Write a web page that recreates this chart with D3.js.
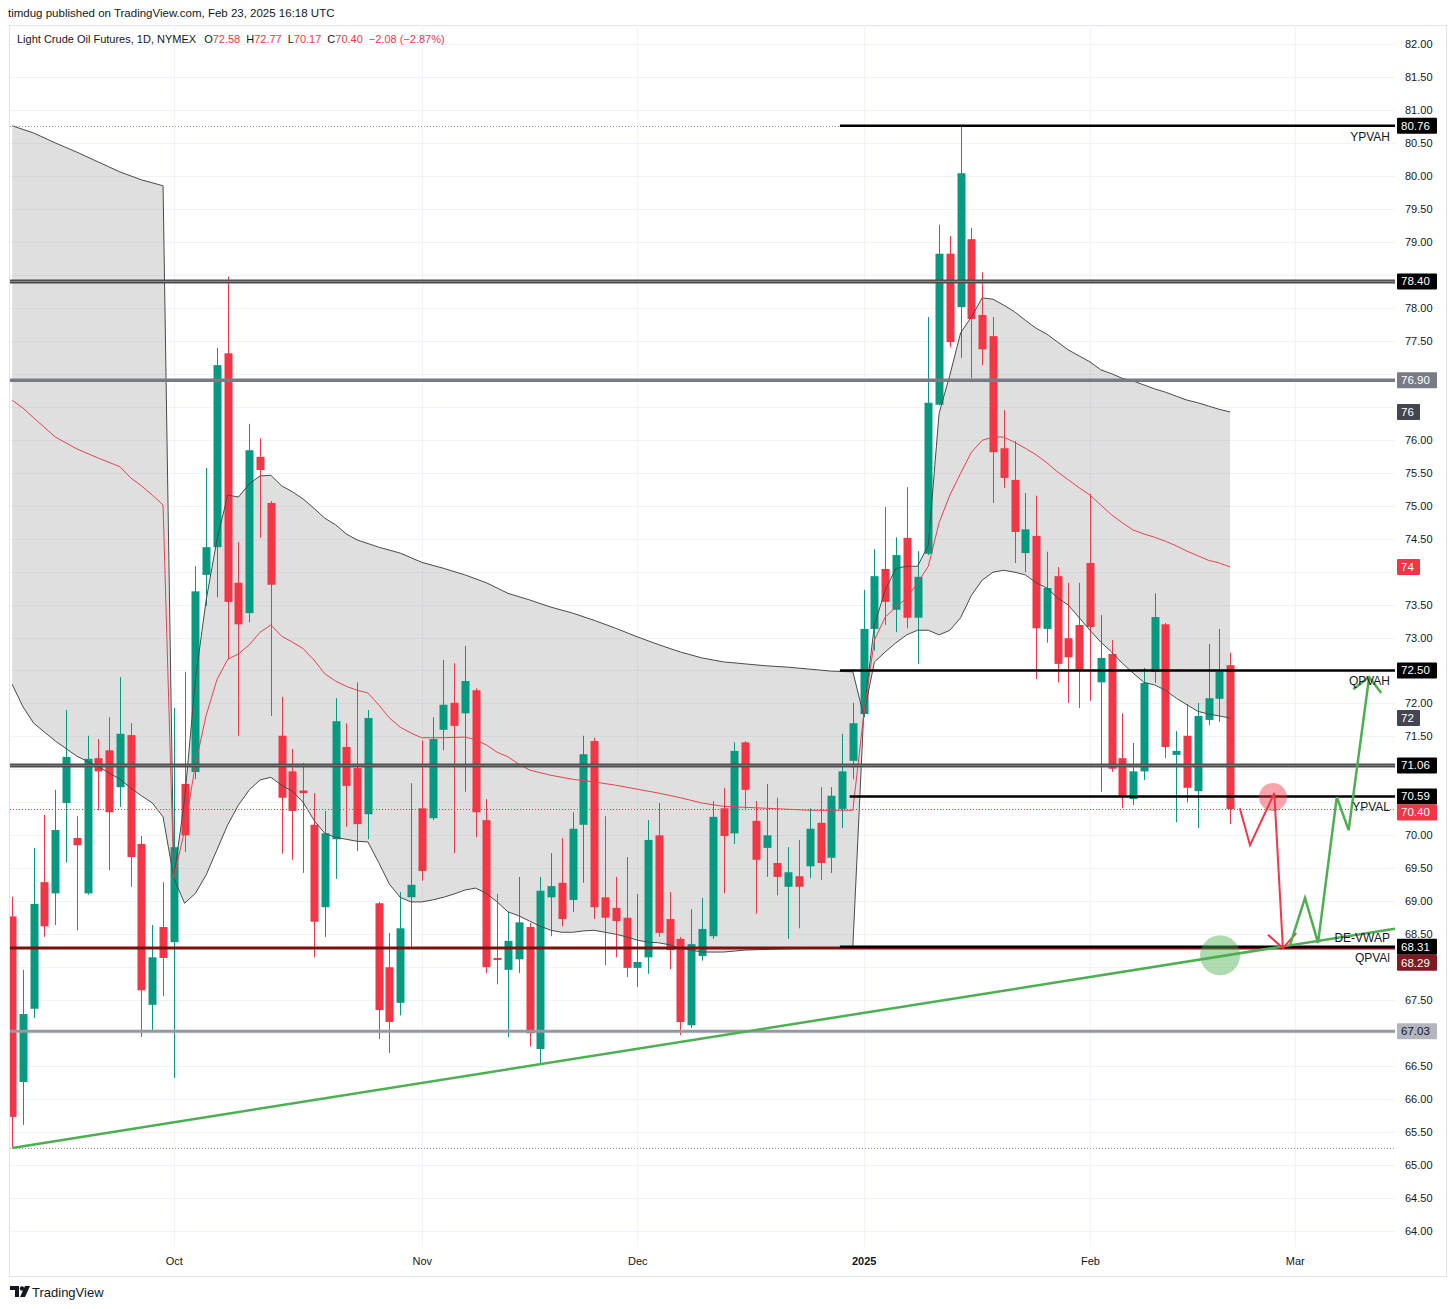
<!DOCTYPE html>
<html><head><meta charset="utf-8">
<script src="https://cdn.jsdelivr.net/npm/d3@7/dist/d3.min.js"></script>
<style>
html,body{margin:0;padding:0;background:#fff;}
svg{display:block;font-family:"Liberation Sans",Arial,sans-serif;}
</style></head><body>
<svg id="c" width="1456" height="1309"></svg>
<script>
// ---------------- DATA ----------------
const dates = ("2024-09-10 2024-09-11 2024-09-12 2024-09-13 2024-09-16 2024-09-17 2024-09-18 2024-09-19 2024-09-20 2024-09-23 2024-09-24 2024-09-25 2024-09-26 2024-09-27 2024-09-30 " +
"2024-10-01 2024-10-02 2024-10-03 2024-10-04 2024-10-07 2024-10-08 2024-10-09 2024-10-10 2024-10-11 2024-10-14 2024-10-15 2024-10-16 2024-10-17 2024-10-18 2024-10-21 2024-10-22 2024-10-23 2024-10-24 2024-10-25 2024-10-28 2024-10-29 2024-10-30 2024-10-31 " +
"2024-11-01 2024-11-04 2024-11-05 2024-11-06 2024-11-07 2024-11-08 2024-11-11 2024-11-12 2024-11-13 2024-11-14 2024-11-15 2024-11-18 2024-11-19 2024-11-20 2024-11-21 2024-11-22 2024-11-25 2024-11-26 2024-11-27 2024-11-29 " +
"2024-12-02 2024-12-03 2024-12-04 2024-12-05 2024-12-06 2024-12-09 2024-12-10 2024-12-11 2024-12-12 2024-12-13 2024-12-16 2024-12-17 2024-12-18 2024-12-19 2024-12-20 2024-12-23 2024-12-24 2024-12-26 2024-12-27 2024-12-30 2024-12-31 " +
"2025-01-02 2025-01-03 2025-01-06 2025-01-07 2025-01-08 2025-01-09 2025-01-10 2025-01-13 2025-01-14 2025-01-15 2025-01-16 2025-01-17 2025-01-21 2025-01-22 2025-01-23 2025-01-24 2025-01-27 2025-01-28 2025-01-29 2025-01-30 2025-01-31 " +
"2025-02-03 2025-02-04 2025-02-05 2025-02-06 2025-02-07 2025-02-10 2025-02-11 2025-02-12 2025-02-13 2025-02-14 2025-02-18 2025-02-19 2025-02-20 2025-02-21").split(" ");

const opens = [68.77,66.26,67.37,69.29,69.12,70.49,69.96,69.12,71.17,71.29,70.73,71.52,69.87,67.43,68.61,
68.38,70.78,70.96,73.95,74.37,77.31,73.83,73.37,75.74,75.04,71.51,70.97,70.68,70.16,68.91,69.94,71.34,71.02,70.32,68.97,68.00,67.46,69.06,
70.41,70.26,71.60,72.01,71.85,72.20,70.23,68.14,67.96,68.12,68.61,66.76,69.06,69.28,69.02,70.16,71.43,69.06,68.90,68.75,
67.99,68.15,70.00,68.73,68.43,67.12,68.17,68.47,70.41,70.03,71.41,70.22,69.81,69.58,69.22,69.38,69.53,70.19,69.66,70.40,71.13,
71.84,73.13,74.04,73.42,74.51,73.30,74.27,76.53,78.82,78.01,79.04,77.89,77.57,75.87,75.39,74.28,74.54,73.13,73.93,72.99,73.19,
74.13,72.32,72.75,71.17,70.55,70.97,72.48,73.20,71.22,71.51,70.67,71.75,72.07,72.58];
const highs = [69.07,67.96,69.81,70.31,70.69,71.90,70.29,71.51,71.46,71.79,72.40,71.70,69.99,68.64,69.29,
71.93,72.48,74.08,75.57,77.39,78.47,74.45,76.24,76.02,75.07,72.10,71.31,71.10,70.64,70.37,72.08,71.70,72.32,71.90,68.99,68.52,69.14,70.79,
71.44,71.79,72.66,72.61,72.87,72.23,70.55,69.11,68.84,69.37,68.67,69.37,69.73,69.96,70.35,71.51,71.48,70.29,69.37,69.67,
69.11,70.23,70.49,69.14,68.46,68.88,69.05,70.52,70.72,71.41,71.43,70.52,70.78,70.57,69.82,69.93,70.41,70.73,70.73,71.54,72.01,
73.72,74.34,74.98,74.52,75.28,74.31,77.86,79.26,79.09,80.76,79.21,78.54,77.86,76.45,75.98,75.19,75.15,74.30,74.07,73.83,73.83,
75.18,73.34,72.96,71.85,71.40,72.54,73.67,73.22,71.58,71.99,72.01,72.90,73.13,72.77];
const lows = [65.26,65.61,67.23,68.46,68.64,69.59,68.56,69.10,70.38,69.47,70.43,69.22,66.94,67.05,67.56,
66.32,69.75,70.85,73.48,73.61,72.67,71.51,73.23,74.51,71.81,69.72,69.63,69.43,68.15,68.46,69.34,70.13,69.76,69.94,66.91,66.70,67.27,68.31,
69.31,70.23,71.29,69.73,70.66,69.97,67.91,67.74,66.94,67.91,66.80,66.53,68.47,68.62,68.84,69.28,68.73,68.03,68.15,67.85,
67.70,67.90,68.46,67.97,66.97,67.08,68.10,68.43,69.12,69.87,70.38,68.81,69.37,69.09,68.43,68.59,69.35,69.32,69.43,70.11,70.85,
71.79,72.80,73.19,73.08,73.14,72.60,74.25,76.52,77.40,77.24,76.93,77.13,75.04,75.27,74.13,73.99,72.37,72.92,72.32,72.01,71.93,
72.04,70.66,70.96,70.41,70.46,70.84,72.31,71.17,70.20,70.50,70.11,71.67,71.72,70.17];
const closes = [65.73,67.29,68.96,68.62,70.08,71.19,69.85,71.16,70.97,70.35,71.54,69.67,67.65,68.15,68.14,
69.82,70.00,73.70,74.37,77.13,73.54,73.20,75.84,75.54,73.80,70.57,70.37,70.64,68.69,70.03,71.73,70.75,70.17,71.78,67.35,67.17,68.59,69.25,
69.46,71.46,71.98,71.66,72.34,70.35,68.00,68.11,68.40,68.68,67.00,69.16,69.23,68.73,70.10,71.23,68.91,68.75,68.70,67.99,
68.08,69.93,68.52,68.26,67.17,68.35,68.58,70.28,69.99,71.28,70.69,69.63,70.00,69.37,69.44,69.22,70.10,69.58,70.60,70.97,71.70,
73.13,73.93,73.54,74.25,73.30,73.92,76.56,78.82,77.48,80.04,77.83,77.37,75.81,75.42,74.60,74.64,73.14,73.75,72.60,72.70,72.51,
73.16,72.69,71.01,70.60,70.97,72.31,73.31,71.34,71.28,70.72,71.81,72.08,72.48,70.40];

// anchored VWAP bands: [bar index, price]
const upperBand = [[0,80.76],[2,80.65],[4,80.50],[6,80.36],[8,80.21],[10,80.06],[12,79.94],[14,79.85],
[15,69.35],[16,70.54],[17,72.36],[18,73.57],[19,74.48],[20,75.16],[21,75.13],[22,75.33],[23,75.45],[24,75.46],[25,75.30],[26,75.21],[27,75.10],[28,74.96],[29,74.81],[30,74.71],[31,74.57],[32,74.48],[34,74.37],[36,74.28],[38,74.14],[40,74.05],[42,73.95],[44,73.83],[46,73.67],[48,73.57],[50,73.46],[52,73.37],[54,73.26],[56,73.14],[58,73.01],[60,72.89],[62,72.78],[64,72.69],[66,72.63],[68,72.60],[70,72.57],[72,72.55],[74,72.52],[76,72.49],[78,72.48],
[79,71.82],[80,73.19],[81,73.72],[82,74.05],[83,74.08],[84,74.08],[85,74.40],[86,76.40],[87,76.98],[88,77.62],[89,77.86],[90,78.15],[91,78.13],[92,78.04],[93,77.94],[94,77.81],[95,77.69],[96,77.60],[97,77.48],[98,77.36],[99,77.27],[100,77.18],[101,77.06],[102,77.00],[103,76.93],[104,76.89],[105,76.83],[106,76.77],[107,76.72],[108,76.66],[109,76.60],[110,76.56],[111,76.51],[112,76.46],[113,76.42]];
const midBand = [[0,76.60],[1,76.48],[2,76.33],[4,76.04],[6,75.86],[8,75.72],[10,75.59],[11,75.42],[12,75.30],[13,75.16],[14,75.01],
[15,69.35],[16,70.08],[17,71.07],[18,71.82],[19,72.36],[20,72.67],[21,72.75],[22,72.89],[23,73.08],[24,73.19],[25,73.02],[26,72.93],[27,72.83],[28,72.66],[29,72.45],[30,72.34],[31,72.26],[32,72.20],[33,72.16],[34,71.98],[35,71.78],[36,71.64],[37,71.55],[38,71.48],[40,71.48],[42,71.49],[43,71.45],[44,71.37],[45,71.26],[46,71.19],[47,71.08],[48,70.99],[50,70.91],[52,70.85],[54,70.81],[56,70.76],[58,70.70],[60,70.64],[62,70.57],[64,70.49],[66,70.44],[70,70.41],[74,70.38],[78,70.38],
[79,71.82],[80,72.96],[81,73.31],[82,73.46],[83,73.60],[84,73.83],[85,74.08],[86,74.74],[87,75.16],[88,75.49],[89,75.81],[90,75.99],[91,76.04],[92,76.04],[93,75.96],[94,75.87],[95,75.77],[96,75.65],[97,75.51],[98,75.39],[99,75.27],[100,75.16],[101,75.01],[102,74.86],[103,74.74],[104,74.63],[105,74.57],[106,74.52],[107,74.46],[108,74.39],[109,74.31],[110,74.24],[111,74.17],[112,74.13],[113,74.07]];
const lowerBand = [[0,72.29],[1,71.95],[2,71.70],[4,71.43],[6,71.20],[8,71.04],[10,70.85],[11,70.72],[12,70.60],[13,70.49],[14,70.28],
[15,69.35],[16,68.97],[17,69.12],[18,69.40],[19,69.78],[20,70.16],[21,70.46],[22,70.69],[23,70.84],[24,70.88],[25,70.76],[26,70.67],[27,70.50],[28,70.23],[29,70.03],[30,69.97],[31,69.94],[32,69.91],[33,69.90],[34,69.59],[35,69.26],[36,69.06],[37,68.99],[38,68.99],[39,69.02],[40,69.06],[41,69.11],[42,69.17],[43,69.20],[44,69.12],[45,68.99],[46,68.84],[47,68.78],[48,68.70],[49,68.62],[50,68.56],[51,68.53],[52,68.53],[53,68.55],[54,68.56],[55,68.53],[56,68.50],[57,68.46],[58,68.41],[59,68.38],[60,68.37],[61,68.34],[62,68.29],[64,68.23],[66,68.23],[68,68.26],[72,68.28],[76,68.29],[78,68.31],
[79,71.82],[80,72.63],[81,72.78],[82,72.92],[83,73.04],[84,73.11],[85,73.11],[86,73.04],[87,73.11],[88,73.30],[89,73.64],[90,73.87],[91,73.99],[92,74.02],[93,73.99],[94,73.95],[95,73.83],[96,73.75],[97,73.60],[98,73.49],[99,73.30],[100,73.11],[101,72.93],[102,72.78],[103,72.61],[104,72.46],[105,72.32],[106,72.28],[107,72.20],[108,72.08],[109,71.98],[110,71.88],[111,71.84],[112,71.81],[113,71.78]];

// horizontal levels
const levelPrices = [80.76, 78.40, 76.90, 72.50, 71.06, 70.59, 68.29, 68.31, 67.03];
const levelStartBar = [76.8, 0, 0, 76.8, 0, 77.7, 0, 76.8, 0];
const levelNames = ["YPVAH", "", "", "QPVAH", "", "YPVAL", "DE-VWAP", "QPVAl", ""];
const levelNameAbove = [false, false, false, false, false, false, true, false, false];

// drawings
const trendLine = [[0, 65.26], [49, 66.53]];
const redPath = [[113.9, 70.41], [114.85, 69.85], [117.1, 70.64], [117.9, 68.29]];
const greenPath = [[118.56, 68.34], [119.95, 69.05], [121.16, 68.37], [122.9, 70.58], [124.0, 70.08], [125.9, 72.40]];
const redMarker = [116.98, 70.58];
const greenMarker = [112.07, 68.18];

// axes
const yTickValues = [64.0,64.5,65.0,65.5,66.0,66.5,67.0,67.5,68.0,68.5,69.0,69.5,70.0,70.5,71.0,71.5,72.0,72.5,73.0,73.5,74.0,74.5,75.0,75.5,76.0,76.5,77.0,77.5,78.0,78.5,79.0,79.5,80.0,80.5,81.0,81.5,82.0];
const xTickLabels = ["Oct", "Nov", "Dec", "2025", "Feb", "Mar"];
const xTickIndex = [15, 38, 58, 79, 100, 119];

const symbolName = "Light Crude Oil Futures, 1D, NYMEX";
const publishText = "timdug published on TradingView.com, Feb 23, 2025 16:18 UTC";

// ---------------- DRAW ----------------
const UP = "#089981", DN = "#f23645", TXT = "#131722";
const svg = d3.select("#c");
const plotL = 10, plotR = 1395, plotT = 25, plotB = 1247;
const x = d3.scaleLinear().domain([-0.2, 128.3]).range([plotL, plotR]);
const y = d3.scaleLinear().domain([82, 64]).range([44, 1231]);

svg.append("defs").append("clipPath").attr("id", "clip")
  .append("rect").attr("x", plotL).attr("y", plotT).attr("width", plotR - plotL).attr("height", plotB - plotT);

// publish line
svg.append("text").attr("x", 8).attr("y", 17).attr("font-size", 11.5).attr("fill", TXT).text(publishText);

// frame
svg.append("rect").attr("x", 9.5).attr("y", 25.5).attr("width", 1437).attr("height", 1251)
  .attr("fill", "none").attr("stroke", "#e0e3eb");

const plot = svg.append("g").attr("clip-path", "url(#clip)");

// grid
plot.append("g").selectAll("line").data(yTickValues).join("line")
  .attr("x1", plotL).attr("x2", plotR)
  .attr("y1", d => Math.round(y(d)) + 0.5).attr("y2", d => Math.round(y(d)) + 0.5)
  .attr("stroke", "#f0f3fa");
plot.append("g").selectAll("line").data(xTickIndex).join("line")
  .attr("y1", plotT).attr("y2", plotB)
  .attr("x1", d => Math.round(x(d)) + 0.5).attr("x2", d => Math.round(x(d)) + 0.5)
  .attr("stroke", "#f0f3fa");

// band fill
const polyPts = upperBand.map(d => [x(d[0]), y(d[1])]).concat(lowerBand.slice().reverse().map(d => [x(d[0]), y(d[1])]));
plot.append("path").attr("d", d3.line()(polyPts) + "Z").attr("fill", "rgba(128,128,128,0.25)").attr("stroke", "none");

// candles
const bars = dates.map((d, i) => ({ i, d, o: opens[i], h: highs[i], l: lows[i], c: closes[i] }));
const cg = plot.append("g");
cg.selectAll("line").data(bars).join("line")
  .attr("x1", d => Math.round(x(d.i)) + 0.5).attr("x2", d => Math.round(x(d.i)) + 0.5)
  .attr("y1", d => y(d.h)).attr("y2", d => y(d.l))
  .attr("stroke", d => d.c >= d.o ? UP : DN).attr("stroke-width", 1);
cg.selectAll("rect").data(bars).join("rect")
  .attr("x", d => Math.round(x(d.i)) - 3.5).attr("width", 8)
  .attr("y", d => y(Math.max(d.o, d.c)))
  .attr("height", d => Math.max(1.5, Math.abs(y(d.o) - y(d.c))))
  .attr("fill", d => d.c >= d.o ? UP : DN);

// band lines
const bl = d3.line().x(d => x(d[0])).y(d => y(d[1]));
plot.append("path").attr("d", bl(upperBand)).attr("fill", "none").attr("stroke", "#4a4a4a").attr("stroke-width", 1);
plot.append("path").attr("d", bl(lowerBand)).attr("fill", "none").attr("stroke", "#4a4a4a").attr("stroke-width", 1);
plot.append("path").attr("d", bl(midBand)).attr("fill", "none").attr("stroke", "#e8414f").attr("stroke-width", 1);

// high / low dotted and last price dotted
const hh = d3.max(highs), ll = d3.min(lows), last = closes[closes.length - 1];
[[hh, "#9598a1"], [ll, "#9598a1"], [last, DN]].forEach(([p, col]) => {
  plot.append("line").attr("x1", plotL).attr("x2", plotR)
    .attr("y1", Math.round(y(p)) + 0.5).attr("y2", Math.round(y(p)) + 0.5)
    .attr("stroke", col).attr("stroke-width", 1).attr("stroke-dasharray", "1,2");
});

// levels
const levelStyle = [
  { c: "#000000", w: 2.5 }, { c: "#4a4a4a", w: 4, inner: "#8a8a8a" }, { c: "#787b86", w: 3.5 },
  { c: "#000000", w: 2.5 }, { c: "#4f4f4f", w: 4, inner: "#7a7a7a" }, { c: "#000000", w: 2.5 },
  { c: "#7b1010", w: 3 }, { c: "#000000", w: 2.5 }, { c: "#9598a1", w: 3 }
];
levelPrices.forEach((p, k) => {
  const st = levelStyle[k];
  const yy = y(p);
  plot.append("line").attr("x1", x(levelStartBar[k]) + (levelStartBar[k] === 0 ? -10 : 0)).attr("x2", plotR)
    .attr("y1", yy).attr("y2", yy).attr("stroke", st.c).attr("stroke-width", st.w);
  if (st.inner) plot.append("line").attr("x1", plotL).attr("x2", plotR)
    .attr("y1", yy).attr("y2", yy).attr("stroke", st.inner).attr("stroke-width", 1);
  if (levelNames[k]) {
    svg.append("text").attr("x", 1390).attr("y", levelNameAbove[k] ? yy - 6 : yy + 15)
      .attr("text-anchor", "end").attr("font-size", 12).attr("fill", TXT).text(levelNames[k]);
  }
});

// trend line (extended)
const tl = trendLine, slope = (tl[1][1] - tl[0][1]) / (tl[1][0] - tl[0][0]);
const tEnd = 128.3;
plot.append("line").attr("x1", x(tl[0][0])).attr("y1", y(tl[0][1]))
  .attr("x2", x(tEnd)).attr("y2", y(tl[0][1] + slope * (tEnd - tl[0][0])))
  .attr("stroke", "#4caf50").attr("stroke-width", 2.5);

// markers
plot.append("circle").attr("cx", x(greenMarker[0])).attr("cy", y(greenMarker[1])).attr("r", 20).attr("fill", "rgba(76,175,80,0.45)");
plot.append("circle").attr("cx", x(redMarker[0])).attr("cy", y(redMarker[1])).attr("r", 14).attr("fill", "rgba(242,54,69,0.45)");

// zigzag paths with arrow heads
function arrowPath(pts, col, w) {
  const px = pts.map(d => [x(d[0]), y(d[1])]);
  plot.append("path").attr("d", d3.line()(px)).attr("fill", "none").attr("stroke", col).attr("stroke-width", w)
    .attr("stroke-linejoin", "miter");
  const a = px[px.length - 2], b = px[px.length - 1];
  const ang = Math.atan2(a[1] - b[1], a[0] - b[0]);
  const L = 20, s = Math.PI / 4;
  const p1 = [b[0] + L * Math.cos(ang + s), b[1] + L * Math.sin(ang + s)];
  const p2 = [b[0] + L * Math.cos(ang - s), b[1] + L * Math.sin(ang - s)];
  plot.append("path").attr("d", d3.line()([p1, b, p2])).attr("fill", "none").attr("stroke", col).attr("stroke-width", w);
}
arrowPath(redPath, DN, 2);
arrowPath(greenPath, "#4caf50", 2.5);

// right-axis label boxes
const last2 = last;
const boxes = [
  { p: levelPrices[0], bg: "#000", fg: "#fff" },
  { p: levelPrices[1], bg: "#000", fg: "#fff" },
  { p: levelPrices[2], bg: "#787b86", fg: "#fff" },
  { p: upperBand[upperBand.length - 1][1], bg: "#434651", fg: "#fff", short: true },
  { p: midBand[midBand.length - 1][1], bg: DN, fg: "#fff", short: true },
  { p: levelPrices[3], bg: "#000", fg: "#fff" },
  { p: lowerBand[lowerBand.length - 1][1], bg: "#434651", fg: "#fff", short: true },
  { p: levelPrices[4], bg: "#000", fg: "#fff" },
  { p: levelPrices[5], bg: "#000", fg: "#fff" },
  { p: last2, bg: DN, fg: "#fff" },
  { p: levelPrices[7], bg: "#000", fg: "#fff" },
  { p: levelPrices[6], bg: "#801922", fg: "#fff" },
  { p: levelPrices[8], bg: "#b2b5be", fg: TXT }
];
boxes.forEach(b => b.yy = y(b.p));
let prev = -1e9;
boxes.forEach(b => { if (b.yy < prev + 16) b.yy = prev + 16; prev = b.yy; });

// price axis (hide tick labels hidden behind label boxes)
const visibleTicks = yTickValues.filter(v => boxes.every(b => Math.abs(y(v) - b.yy) > 12));
const yAxis = d3.axisRight(y).tickValues(visibleTicks).tickFormat(d3.format(".2f")).tickSize(0).tickPadding(9);
const ya = svg.append("g").attr("transform", "translate(1396,0)").call(yAxis);
ya.select(".domain").remove();
ya.selectAll("text").attr("font-size", 11).attr("fill", TXT).attr("font-family", "Liberation Sans, Arial, sans-serif");

// time axis
const xAxis = d3.axisBottom(x).tickValues(xTickIndex).tickFormat((d, i) => xTickLabels[i]).tickSize(0).tickPadding(10);
const xa = svg.append("g").attr("transform", `translate(0,${plotB})`).call(xAxis);
xa.select(".domain").remove();
xa.selectAll("text").attr("font-size", 11).attr("fill", TXT).attr("font-family", "Liberation Sans, Arial, sans-serif")
  .attr("font-weight", (d, i) => xTickLabels[i] === "2025" ? "bold" : "normal");

const bg = svg.append("g");
boxes.forEach(b => {
  const w = b.short ? 23 : 40;
  bg.append("rect").attr("x", 1397).attr("y", b.yy - 8).attr("width", w).attr("height", 16).attr("rx", 1).attr("fill", b.bg);
  bg.append("text").attr("x", 1401).attr("y", b.yy + 4).attr("font-size", 11.5).attr("fill", b.fg)
    .text(b.short ? d3.format(".0f")(b.p) : d3.format(".2f")(b.p));
});

// legend
const n = closes.length - 1;
const chg = closes[n] - closes[n - 1];
const fmt = d3.format(".2f");
const minus = v => (v < 0 ? "\u2212" : "+") + fmt(Math.abs(v));
const leg = svg.append("text").attr("x", 17).attr("y", 43).attr("font-size", 11).attr("fill", TXT);
leg.append("tspan").text(symbolName);
[["O", opens[n]], ["H", highs[n]], ["L", lows[n]], ["C", closes[n]]].forEach(([k, v], j) => {
  leg.append("tspan").attr("dx", j === 0 ? 8 : 6).attr("fill", TXT).text(k);
  leg.append("tspan").attr("fill", DN).text(fmt(v));
});
leg.append("tspan").attr("dx", 6).attr("fill", DN).text(minus(chg) + " (" + minus(chg / closes[n - 1] * 100) + "%)");

// logo
const lg = svg.append("g").attr("fill", TXT);
lg.append("path").attr("d", "M10,1286 h9 v11 h-4 v-7 h-5 z");
lg.append("circle").attr("cx", 22).attr("cy", 1288.5).attr("r", 2.2);
lg.append("path").attr("d", "M25,1286 h5 l-5,11 h-5 z");
svg.append("text").attr("x", 32).attr("y", 1297).attr("font-size", 13).attr("fill", TXT).text("TradingView");
</script>
</body></html>
